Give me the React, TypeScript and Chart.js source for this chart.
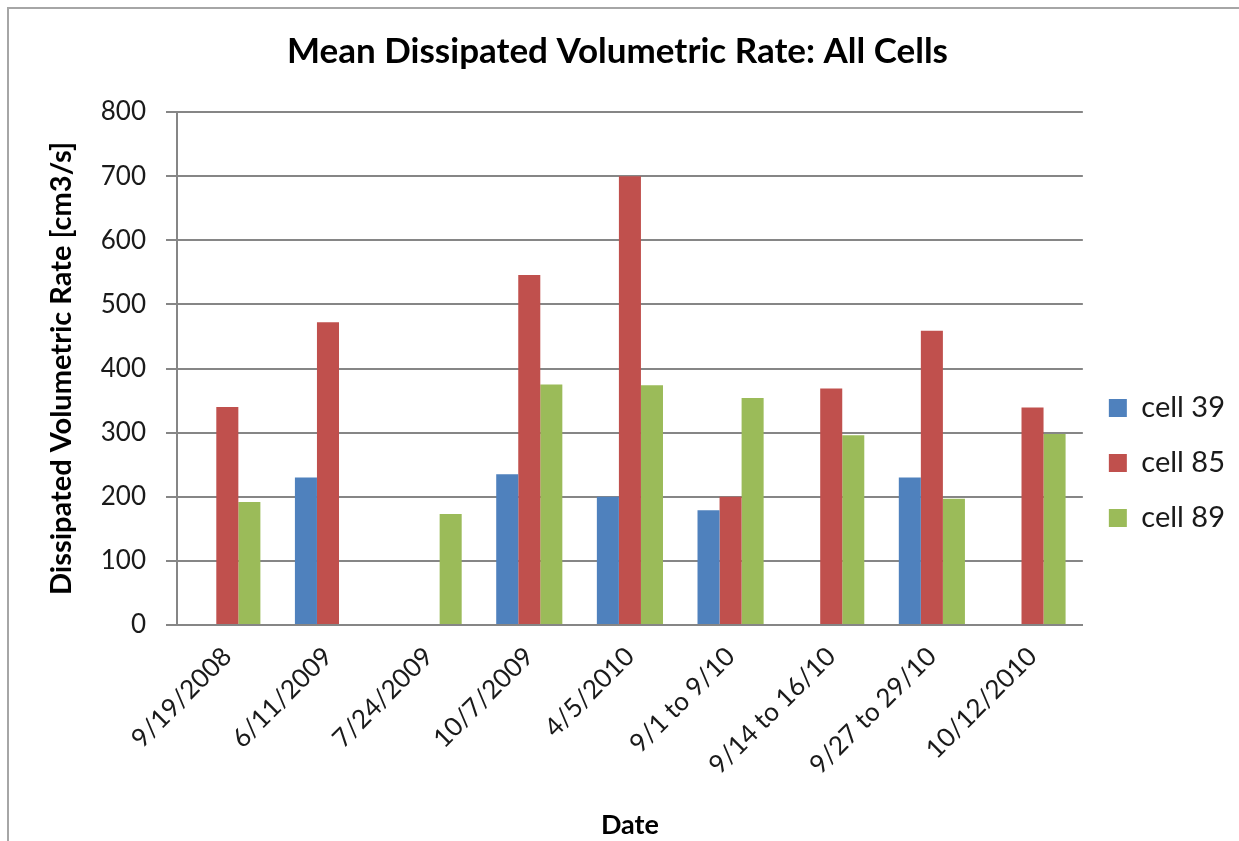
import React, { useEffect, useRef } from 'react';
import { Chart, registerables } from 'chart.js';

Chart.register(...registerables);

const categories = ['9/19/2008', '6/11/2009', '7/24/2009', '10/7/2009', '4/5/2010', '9/1 to 9/10', '9/14 to 16/10', '9/27 to 29/10', '10/12/2010'];
const cell39 = [null, 230, null, 235, 200, 179, null, 230, null];
const cell85 = [340, 472, null, 546, 700, 200, 369, 459, 339];
const cell89 = [192, null, 173, 375, 374, 354, 296, 197, 298];
const seriesLabels = ['cell 39', 'cell 85', 'cell 89'];
const seriesColors = ['#4F81BD', '#C0504D', '#9BBB59'];
const chartTitle = 'Mean Dissipated Volumetric Rate: All Cells';
const yTitle = 'Dissipated Volumetric Rate [cm3/s]';
const xTitle = 'Date';

const FONT = 'Lato, "Open Sans", sans-serif';

const framePlugin = {
  id: 'frame',
  beforeDraw(chart: any) {
    const { ctx, width, height } = chart;
    ctx.save();
    ctx.fillStyle = '#ffffff';
    ctx.fillRect(0, 0, width, height);
    ctx.strokeStyle = '#a6a6a6';
    ctx.lineWidth = 2;
    ctx.beginPath();
    ctx.moveTo(8, height);
    ctx.lineTo(8, 8);
    ctx.lineTo(width, 8);
    ctx.stroke();
    ctx.restore();
  },
};

export default function App() {
  const ref = useRef<HTMLCanvasElement | null>(null);
  useEffect(() => {
    if (!ref.current) return;
    const seriesData = [cell39, cell85, cell89];
    const chart = new Chart(ref.current, {
      type: 'bar',
      data: {
        labels: categories,
        datasets: seriesLabels.map((label, i) => ({
          label,
          data: seriesData[i],
          backgroundColor: seriesColors[i],
          borderWidth: 0,
          categoryPercentage: 0.657,
          barPercentage: 1,
        })),
      },
      options: {
        animation: false,
        responsive: false,
        devicePixelRatio: 1,
        layout: { padding: { left: 0, right: 4, top: 0, bottom: 0 } },
        plugins: {
          title: {
            display: true,
            text: chartTitle,
            color: '#000000',
            font: { family: FONT, size: 35, weight: 'bold' },
            padding: { top: 31, bottom: 39 },
          },
          legend: {
            display: true,
            position: 'right',
            align: 'center',
            maxWidth: 157,
            title: {
              display: true,
              text: ' ',
              font: { family: FONT, size: 10 },
              padding: { top: 73, bottom: 0 },
            },
            labels: {
              boxWidth: 18,
              boxHeight: 18,
              padding: 26,
              color: '#1a1a1a',
              font: { family: FONT, size: 29 },
            },
          },
          tooltip: { enabled: false },
        },
        scales: {
          x: {
            grid: { display: false, drawTicks: false },
            border: { display: true, color: '#868686', width: 2 },
            ticks: {
              color: '#1a1a1a',
              font: { family: FONT, size: 26 },
              minRotation: 45,
              maxRotation: 45,
              padding: 16,
              autoSkip: false,
            },
            title: {
              display: true,
              text: xTitle,
              color: '#000000',
              font: { family: FONT, size: 27, weight: 'bold' },
              padding: { top: 0, bottom: 0 },
            },
            afterFit(scale: any) {
              scale.height = 216;
            },
          },
          y: {
            min: 0,
            max: 800,
            ticks: {
              stepSize: 100,
              color: '#1a1a1a',
              font: { family: FONT, size: 26 },
              padding: 20,
            },
            grid: { color: '#868686', lineWidth: 2, tickLength: 11, drawTicks: true },
            border: { display: true, color: '#868686', width: 2 },
            title: {
              display: true,
              text: yTitle,
              color: '#000000',
              font: { family: FONT, size: 29, weight: 'bold' },
              padding: { top: 44.6, bottom: 0 },
            },
            afterFit(scale: any) {
              scale.width = 177;
            },
          },
        },
      },
      plugins: [framePlugin],
    });
    return () => chart.destroy();
  }, []);
  return (
    <div style={{ position: 'fixed', left: 0, top: 0, width: 1239, height: 841 }}>
      <canvas ref={ref} width={1239} height={841} style={{ display: 'block', width: 1239, height: 841 }} />
    </div>
  );
}
